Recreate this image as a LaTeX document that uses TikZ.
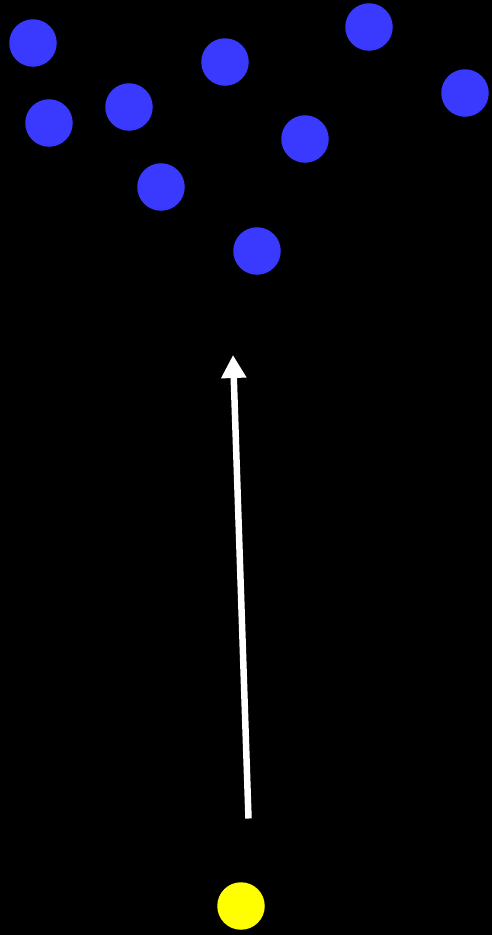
\documentclass[tikz,border=0pt]{standalone}
\usepackage{tikz}
\usetikzlibrary{arrows.meta}
\definecolor{swarm}{HTML}{3A3AFF}
\definecolor{source}{HTML}{FFFF00}

\begin{document}
\begin{tikzpicture}[x=1pt, y=-1pt,
    particle/.style={circle, fill=swarm, minimum size=47.5pt, inner sep=0pt},
    emitter/.style={circle, fill=source, minimum size=47.5pt, inner sep=0pt}]
  % Background
  \fill[black] (0,0) rectangle (492,935);
  \useasboundingbox (0,0) rectangle (492,935);

  % Blue particles
  \foreach \name/\x/\y in {pA/33/43, pB/49/123, pC/129/107, pD/161/187,
      pE/225/62, pF/369/27, pG/305/139, pH/465/93, pI/257/251} {
    \node[particle] (\name) at (\x,\y) {};
  }

  % Yellow source
  \node[emitter] (src) at (241,906) {};

  % Velocity arrow
  \coordinate (tail) at (248.5,818.5);
  \coordinate (head) at (233,355);
  \draw[-{Triangle[length=23pt, width=24pt]}, line width=6.5pt, white]
    (tail) -- (head);
\end{tikzpicture}
\end{document}
